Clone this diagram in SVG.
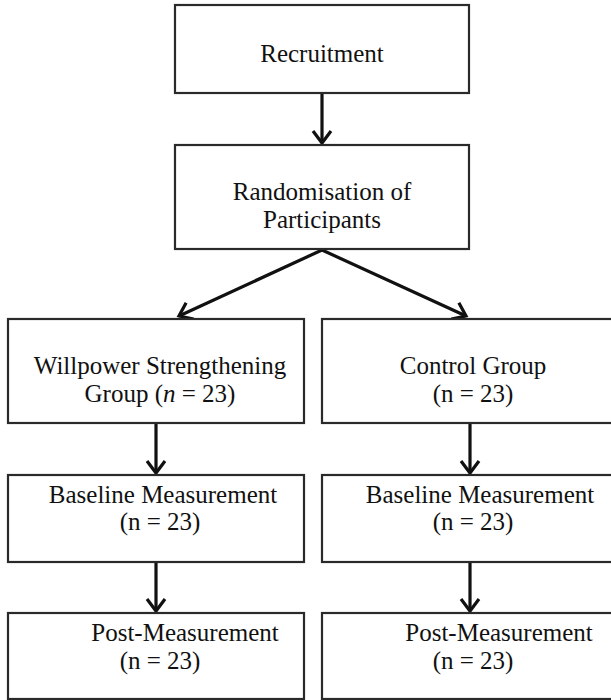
<svg xmlns="http://www.w3.org/2000/svg" width="611" height="700" viewBox="0 0 611 700">
<style>
.box{fill:#fff;stroke:#2a2a2a;stroke-width:2.2}
.t{font-family:"Liberation Serif","Times New Roman",serif;font-size:25px;fill:#111;text-anchor:middle}
.c{stroke:#111;stroke-width:3.2;fill:none}
</style>
<defs>
<marker id="ah" markerUnits="userSpaceOnUse" markerWidth="20" markerHeight="24" viewBox="-16 -12 20 24" refX="0" refY="0" orient="auto" overflow="visible">
<path d="M-12,-9 L0,0 L-12,9" fill="none" stroke="#111" stroke-width="3.2" stroke-linejoin="miter"/>
</marker>
</defs>
<rect width="611" height="700" fill="#fff"/>
<g id="connectors">
<line class="c" x1="322" y1="93" x2="322" y2="143" marker-end="url(#ah)"/>
<line class="c" x1="322" y1="250" x2="179" y2="316" marker-end="url(#ah)"/>
<line class="c" x1="322" y1="250" x2="466" y2="316" marker-end="url(#ah)"/>
<line class="c" x1="156" y1="423" x2="156" y2="473" marker-end="url(#ah)"/>
<line class="c" x1="156" y1="562" x2="156" y2="611" marker-end="url(#ah)"/>
<line class="c" x1="470" y1="423" x2="470" y2="473" marker-end="url(#ah)"/>
<line class="c" x1="470" y1="562" x2="470" y2="611" marker-end="url(#ah)"/>
</g>
<g id="recruitment">
<rect class="box" x="175" y="5" width="294" height="88"/>
<text class="t" x="322" y="62">Recruitment</text>
</g>
<g id="randomisation">
<rect class="box" x="175" y="145" width="294" height="104"/>
<text class="t" x="322" y="200">Randomisation of</text>
<text class="t" x="322" y="228">Participants</text>
</g>
<g id="willpower">
<rect class="box" x="8" y="319" width="296" height="104"/>
<text class="t" x="160" y="374">Willpower Strengthening</text>
<text class="t" x="160" y="402">Group (<tspan font-style="italic">n</tspan> = 23)</text>
</g>
<g id="control">
<rect class="box" x="322" y="319" width="296" height="104"/>
<text class="t" x="473" y="374">Control Group</text>
<text class="t" x="473" y="402">(n = 23)</text>
</g>
<g id="baseline-left">
<rect class="box" x="8" y="475" width="296" height="87"/>
<text class="t" x="163" y="503">Baseline Measurement</text>
<text class="t" x="160" y="530">(n = 23)</text>
</g>
<g id="baseline-right">
<rect class="box" x="322" y="475" width="296" height="87"/>
<text class="t" x="480" y="503">Baseline Measurement</text>
<text class="t" x="473" y="530">(n = 23)</text>
</g>
<g id="post-left">
<rect class="box" x="8" y="613" width="296" height="86"/>
<text class="t" x="185" y="641">Post-Measurement</text>
<text class="t" x="160" y="669">(n = 23)</text>
</g>
<g id="post-right">
<rect class="box" x="322" y="613" width="296" height="86"/>
<text class="t" x="499" y="641">Post-Measurement</text>
<text class="t" x="473" y="669">(n = 23)</text>
</g>
</svg>
